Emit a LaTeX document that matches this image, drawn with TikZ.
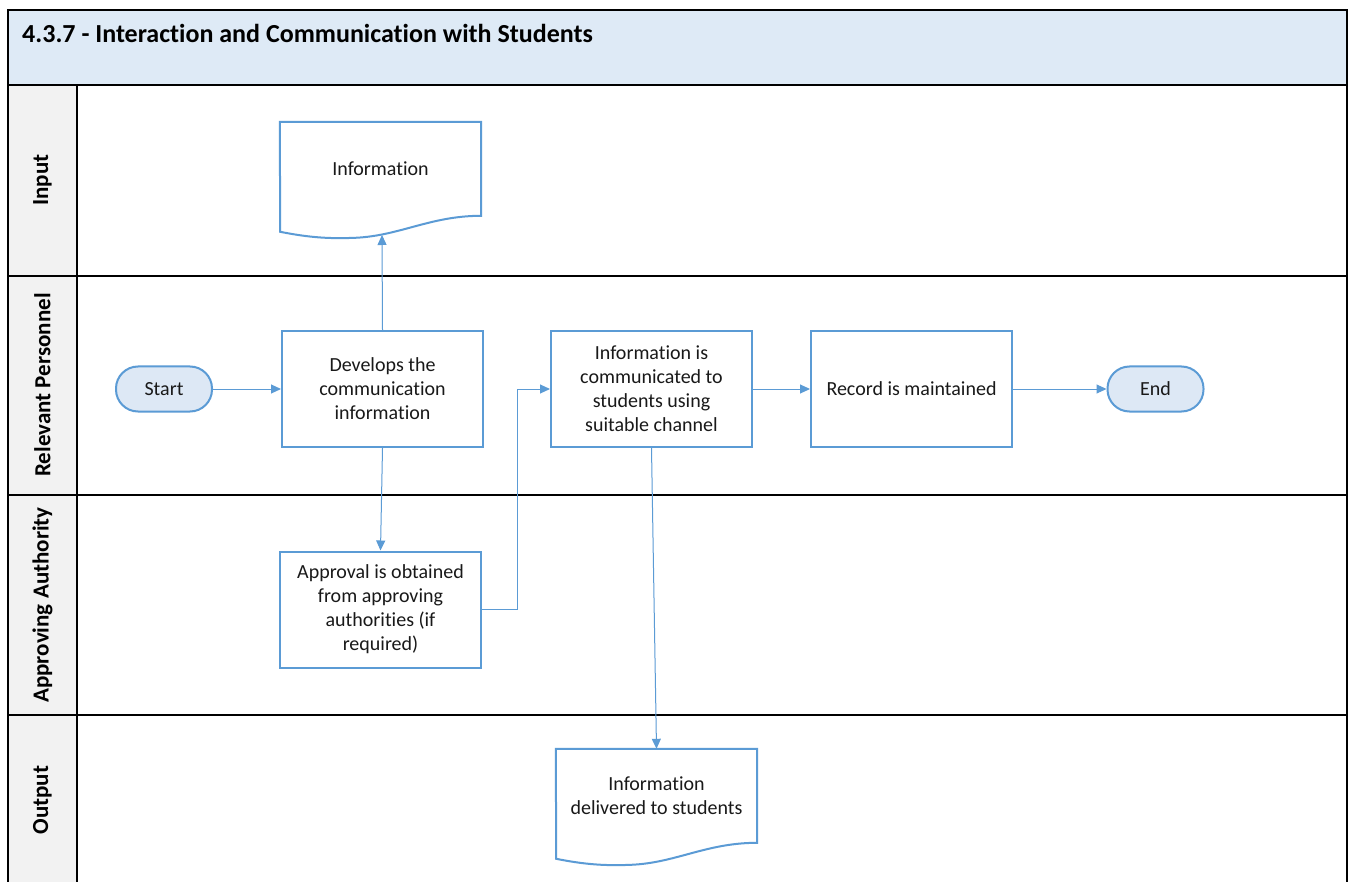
\documentclass[tikz,border=0pt]{standalone}
\usepackage{fontspec}
\setmainfont{Carlito}[Ligatures=NoCommon]
\usetikzlibrary{arrows.meta,calc}
\definecolor{boxblue}{HTML}{5B9BD5}
\definecolor{titlefill}{HTML}{DEEAF6}
\definecolor{lanefill}{HTML}{F2F2F2}
\definecolor{termfill}{HTML}{DDE8F5}
\tikzset{
  body/.style={font=\fontsize{20}{24}\selectfont, align=center, text=black!90},
  proc/.style={body, draw=boxblue, line width=2pt, fill=white,
    minimum width=201pt, minimum height=116pt, inner sep=0pt},
  term/.style={body, draw=boxblue, line width=2pt, fill=termfill,
    rounded corners=22pt, minimum width=96pt, minimum height=45pt, inner sep=0pt},
  docnode/.style={body, minimum width=201pt, minimum height=94pt, inner sep=0pt},
  docline/.style={draw=boxblue, line width=2pt, fill=white, line join=miter},
  link/.style={draw=boxblue, line width=1pt, -{Triangle[length=10pt,width=9pt]}},
  lane/.style={draw=black, line width=1.6pt},
  lanelabel/.style={rotate=90, font=\bfseries\fontsize{23}{26}\selectfont},
}
% document outline hanging from the top edge of a document node
\newcommand{\docoutline}[1]{%
  \draw[docline] (#1.north west) -- (#1.north east) -- ++(0,94)
    .. controls +(-51,0) and +(45,-2) .. ++(-126,22)
    .. controls +(-25,1) and +(30,6) .. ++(-75,-6) -- cycle;}
\begin{document}
\begin{tikzpicture}[x=1pt,y=-1pt]
\useasboundingbox (0,0) rectangle (1349,882);
% frame, title band and lanes
\fill[white] (0,0) rectangle (1349,882);
\fill[titlefill] (8,10) rectangle (1347,85);
\fill[lanefill] (8,85) rectangle (77,882);
\draw[lane] (8,882) -- (8,10) -- (1347,10) -- (1347,882);
\draw[lane] (8,85) -- (1347,85);
\draw[lane] (77,85) -- (77,882);
\draw[lane] (8,276) -- (1347,276);
\draw[lane] (8,495) -- (1347,495);
\draw[lane] (8,715) -- (1347,715);
\node[anchor=west, inner sep=0pt, font=\bfseries\fontsize{26}{30}\selectfont] (title) at (22,33)
  {4.3.7 - Interaction and Communication with Students};
\node[lanelabel] (lInput) at (42.5,180) {Input};
\node[lanelabel] (lPers) at (42.5,385) {Relevant Personnel};
\node[lanelabel] (lAppr) at (42.5,605) {Approving Authority};
\node[lanelabel] (lOut) at (42.5,800) {Output};

% flow elements
\node[term] (start) at (164,389) {Start};
\node[proc] (dev) at (382.5,389) {Develops the\\communication\\information};
\node[proc] (comm) at (651.5,389) {Information is\\communicated to\\students using\\suitable channel};
\node[proc] (rec) at (911.5,389) {Record is maintained};
\node[term] (end) at (1155.5,389) {End};
\node[proc] (appr) at (380.5,609.5) {Approval is obtained\\from approving\\authorities (if\\required)};

\node[docnode] (info) at (380.5,169) {};
\docoutline{info}
\node[body] (infotext) at (info.center) {Information};
\node[docnode] (deliv) at (656.5,796) {};
\docoutline{deliv}
\node[body] (delivtext) at (deliv.center) {Information\\delivered to students};
\coordinate (infobase) at (382,235);

% connectors
\draw[link] (start) -- (dev);
\draw[link] (dev.north) -- (infobase);
\draw[link] (dev.south) -- (appr.north);
\draw[link] (appr.east) -- ++(35,0) |- (comm.west);
\draw[link] (comm.south) -- (deliv.north);
\draw[link] (comm) -- (rec);
\draw[link] (rec) -- (end);
\end{tikzpicture}
\end{document}
